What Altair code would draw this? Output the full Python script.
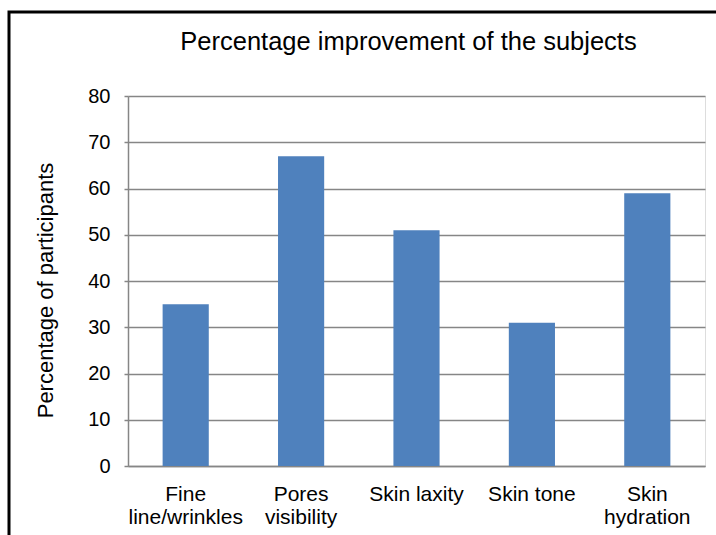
import json
import altair as alt
import pandas as pd

# Survey outcome per skin attribute
categories = ["Fine line/wrinkles", "Pores visibility", "Skin laxity", "Skin tone", "Skin hydration"]
label_lines = [["Fine", "line/wrinkles"], ["Pores", "visibility"], ["Skin laxity"], ["Skin tone"], ["Skin", "hydration"]]
percentages = [35, 67, 51, 31, 59]
y_ticks = [0, 10, 20, 30, 40, 50, 60, 70, 80]

df = pd.DataFrame({"category": categories, "pct": percentages})

# multi-line category labels
label_expr = ""
for cat, lines in zip(categories, label_lines):
    label_expr += f"datum.label == {json.dumps(cat)} ? {json.dumps(lines)} : "
label_expr += "datum.label"

FONT = "Liberation Sans"
GRID = "#868686"

bars = alt.Chart(df).mark_bar(color="#4F81BD").encode(
    x=alt.X(
        "category:N",
        sort=categories,
        scale=alt.Scale(paddingInner=0.6, paddingOuter=0.3),
        axis=alt.Axis(
            title=None,
            labelAngle=0,
            labelExpr=label_expr,
            labelFont=FONT,
            labelFontSize=21,
            labelColor="black",
            labelLineHeight=23,
            labelPadding=17,
            labelBaseline="top",
            ticks=False,
            domainColor=GRID,
            domainWidth=1.5,
        ),
    ),
    y=alt.Y(
        "pct:Q",
        scale=alt.Scale(domain=[0, 80], nice=False),
        axis=alt.Axis(
            title="Percentage of participants",
            values=y_ticks,
            titleFont=FONT,
            titleFontSize=22,
            titleFontWeight="normal",
            titleColor="black",
            titleX=-71,
            titleY=194,
            labelFont=FONT,
            labelFontSize=20,
            labelColor="black",
            labelPadding=14,
            tickSize=4,
            tickColor=GRID,
            tickWidth=1.5,
            domainColor=GRID,
            domainWidth=1.5,
            gridColor=GRID,
            gridWidth=1.5,
        ),
    ),
)

# outer frame around the whole figure
frame = alt.Chart(alt.Data(values=[{}])).mark_rect(
    fill=None, stroke="black", strokeWidth=3
).encode(
    x=alt.value(-119),
    y=alt.value(-84),
    x2=alt.value(700),
    y2=alt.value(600),
)

chart = alt.layer(bars, frame).properties(
    width=577,
    height=370,
    title=alt.TitleParams(
        "Percentage improvement of the subjects",
        font=FONT,
        fontSize=25.5,
        fontWeight="normal",
        color="black",
        anchor="middle",
        dx=-8,
        offset=-45,
    ),
    autosize=alt.AutoSizeParams(type="none"),
    padding={"left": 128, "top": 96, "right": 11, "bottom": 69},
).configure_view(stroke=None).configure(background="white")

chart.save("out.html", embed_options={"renderer": "svg", "actions": False})
